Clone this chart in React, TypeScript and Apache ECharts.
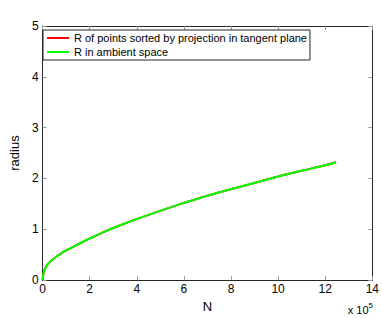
import React, { useEffect, useRef } from "react";
import * as echarts from "echarts";

const nValues = [0, 0.03, 0.11, 0.25, 0.5, 0.84, 1.37, 1.68, 2.01, 2.71, 3.41, 4.11, 5.87, 6.71, 7.55, 9.23, 10, 11, 12, 12.46];
const rTangent = [0, 0.11, 0.23, 0.33, 0.43, 0.54, 0.67, 0.745, 0.82, 0.97, 1.1, 1.22, 1.5, 1.62, 1.735, 1.94, 2.04, 2.15, 2.26, 2.32];
const rAmbient = [0, 0.11, 0.23, 0.33, 0.43, 0.54, 0.67, 0.745, 0.82, 0.97, 1.1, 1.22, 1.5, 1.62, 1.735, 1.94, 2.04, 2.15, 2.26, 2.32];
const seriesNames = ["R of points sorted by projection in tangent plane", "R in ambient space"];
const xTicks = { min: 0, max: 14, interval: 2 };
const yTicks = { min: 0, max: 5, interval: 1 };

const FONT = "Liberation Sans, Arial, Helvetica, sans-serif";

export default function App() {
  const ref = useRef<HTMLDivElement>(null);
  useEffect(() => {
    if (!ref.current) return;
    const chart = echarts.init(ref.current, undefined, { renderer: "svg" });
    const axisLine = { show: true, onZero: false, lineStyle: { color: "#262626", width: 1 } };
    const tick = { show: true, inside: true, length: 4, lineStyle: { color: "#9a9a9a" } };
    chart.setOption({
      animation: false,
      backgroundColor: "#ffffff",
      textStyle: { fontFamily: FONT },
      grid: { left: 40, top: 26, width: 333, height: 262 },
      legend: {
        left: 43,
        top: 30,
        orient: "vertical",
        data: seriesNames,
        icon: "rect",
        itemWidth: 22,
        itemHeight: 2,
        itemGap: 0,
        padding: [1, 3, 1, 4],
        borderColor: "#262626",
        borderWidth: 1,
        backgroundColor: "#ffffff",
        textStyle: { fontSize: 11, color: "#000", lineHeight: 14, fontFamily: FONT },
      },
      xAxis: [
        {
          type: "value",
          ...xTicks,
          position: "bottom",
          name: "N",
          nameLocation: "middle",
          nameGap: 16,
          nameTextStyle: { fontSize: 13, color: "#000", fontFamily: FONT },
          axisLine,
          axisTick: tick,
          splitLine: { show: false },
          axisLabel: { fontSize: 12, color: "#000", margin: 3, fontFamily: FONT },
        },
        {
          type: "value",
          ...xTicks,
          position: "top",
          axisLine,
          axisTick: tick,
          splitLine: { show: false },
          axisLabel: { show: false },
        },
      ],
      yAxis: [
        {
          type: "value",
          ...yTicks,
          position: "left",
          name: "radius",
          nameLocation: "middle",
          nameGap: 9,
          nameTextStyle: { fontSize: 13, color: "#000", fontFamily: FONT },
          axisLine,
          axisTick: tick,
          splitLine: { show: false },
          axisLabel: { fontSize: 12, color: "#000", margin: 4, fontFamily: FONT },
        },
        {
          type: "value",
          ...yTicks,
          position: "right",
          axisLine,
          axisTick: tick,
          splitLine: { show: false },
          axisLabel: { show: false },
        },
      ],
      series: [
        {
          name: seriesNames[0],
          type: "line",
          symbol: "none",
          smooth: 0.3,
          color: "#ff0000",
          lineStyle: { width: 2, color: "#ff0000" },
          data: nValues.map((n, i) => [n, rTangent[i]]),
        },
        {
          name: seriesNames[1],
          type: "line",
          symbol: "none",
          smooth: 0.3,
          color: "#00ff00",
          lineStyle: { width: 2, color: "#00ff00" },
          data: nValues.map((n, i) => [n, rAmbient[i]]),
        },
      ],
      graphic: [
        {
          type: "text",
          right: 9,
          bottom: 3,
          style: {
            text: "x 10{s|5}",
            fontSize: 11,
            fill: "#000",
            fontFamily: FONT,
            rich: { s: { fontSize: 8, verticalAlign: "top", padding: [0, 0, 8, 0] } },
          },
        },
      ],
    });
    return () => chart.dispose();
  }, []);
  return (
    <div
      ref={ref}
      style={{ position: "fixed", left: 0, top: 0, width: 382, height: 318, background: "#fff" }}
    />
  );
}
